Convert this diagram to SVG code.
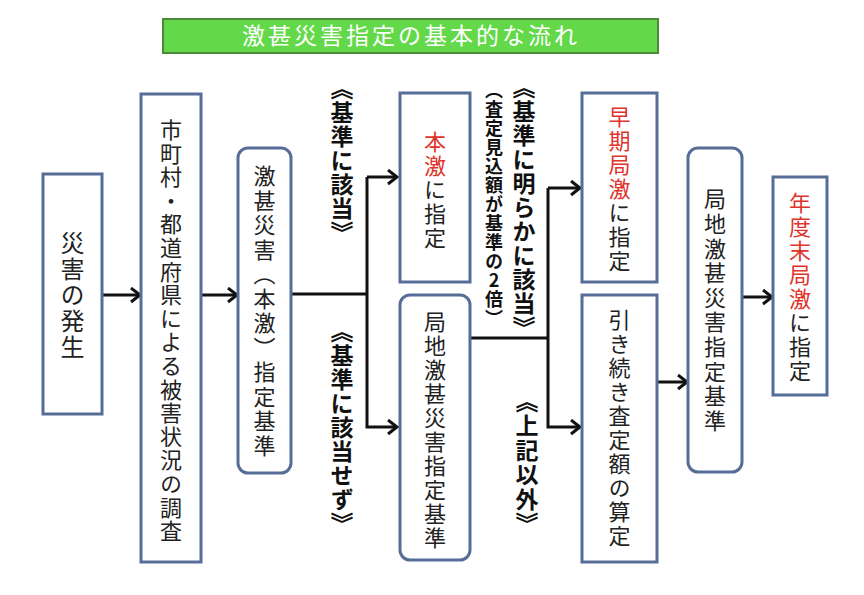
<svg xmlns="http://www.w3.org/2000/svg" width="864" height="595" viewBox="0 0 864 595">
<defs>
<style>
.box{fill:#fff;stroke:#566d98;stroke-width:3}
.v{font-family:"Noto Sans CJK JP","Noto Sans CJK SC",sans-serif;writing-mode:vertical-rl;text-anchor:middle;fill:#222;font-size:22px;letter-spacing:2px}
.b{font-weight:bold;fill:#111;font-size:23px;letter-spacing:1px}
.r{fill:#e0332b}
.ln{fill:none;stroke:#111;stroke-width:3}
.up{text-orientation:upright}
</style>
<marker id="ah" markerUnits="userSpaceOnUse" markerWidth="14" markerHeight="18" refX="11" refY="8" orient="auto">
<path d="M2,1 L11,8 L2,15" fill="none" stroke="#111" stroke-width="3"/>
</marker>
</defs>
<rect width="864" height="595" fill="#fff"/>
<g id="title">
<rect x="163" y="19" width="495" height="34" fill="#63d94a" stroke="#4a8a3a" stroke-width="2"/>
<text x="411" y="44" font-family="'Noto Sans CJK JP',sans-serif" font-size="23" letter-spacing="3" fill="#fff" text-anchor="middle">激甚災害指定の基本的な流れ</text>
</g>
<g id="connectors">
<line class="ln" x1="102" y1="295" x2="140" y2="295" marker-end="url(#ah)"/>
<line class="ln" x1="201" y1="295" x2="237" y2="295" marker-end="url(#ah)"/>
<polyline class="ln" points="291,294 367,294"/>
<polyline class="ln" points="367,177 367,427 397,427" marker-end="url(#ah)"/>
<line class="ln" x1="367" y1="177" x2="397" y2="177" marker-end="url(#ah)"/>
<polyline class="ln" points="470,338 548,338"/>
<polyline class="ln" points="548,188 548,427 580,427" marker-end="url(#ah)"/>
<line class="ln" x1="548" y1="188" x2="580" y2="188" marker-end="url(#ah)"/>
<line class="ln" x1="657" y1="382" x2="687" y2="382" marker-end="url(#ah)"/>
<line class="ln" x1="742" y1="297" x2="772" y2="297" marker-end="url(#ah)"/>
</g>
<g id="n1"><rect class="box" x="43" y="174" width="59" height="240"/><text class="v" x="72.5" y="296" style="font-size:24px;letter-spacing:2px">災害の発生</text></g>
<g id="n2"><rect class="box" x="141" y="94" width="60" height="468"/><text class="v" x="171" y="331" style="font-size:22px;letter-spacing:1.6px">市町村・都道府県による被害状況の調査</text></g>
<g id="n3"><rect class="box" x="238" y="148" width="53" height="325" rx="10"/><text class="v" x="264.5" y="312" style="font-size:22px;letter-spacing:2.5px">激甚災害（本激）指定基準</text></g>
<g id="n4"><rect class="box" x="400" y="93" width="70" height="189"/><text class="v" x="435" y="191"><tspan class="r">本激</tspan>に指定</text></g>
<g id="n5"><rect class="box" x="400" y="295" width="70" height="265" rx="10"/><text class="v" x="435" y="431">局地激甚災害指定基準</text></g>
<g id="n6"><rect class="box" x="582" y="93" width="75" height="189"/><text class="v" x="619.5" y="190"><tspan class="r">早期局激</tspan>に指定</text></g>
<g id="n7"><rect class="box" x="582" y="295" width="75" height="267"/><text class="v" x="619.5" y="429">引き続き査定額の算定</text></g>
<g id="n8"><rect class="box" x="688" y="148" width="54" height="324" rx="10"/><text class="v" x="715" y="311" style="letter-spacing:2.6px">局地激甚災害指定基準</text></g>
<g id="n9"><rect class="box" x="773" y="177" width="54" height="218"/><text class="v" x="800" y="288"><tspan class="r">年度末局激</tspan>に指定</text></g>
<g id="labels">
<text class="v b" x="342" y="161">《基準に該当》</text>
<text class="v b" x="342" y="428">《基準に該当せず》</text>
<text class="v b" x="524" y="208">《基準に明らかに該当》</text>
<text class="v b" x="494" y="205" style="font-size:18px;letter-spacing:1px">（査定見込額が基準の<tspan class="up">2</tspan>倍）</text>
<text class="v b" x="527" y="463" style="letter-spacing:1.5px">《上記以外》</text>
</g>
</svg>
